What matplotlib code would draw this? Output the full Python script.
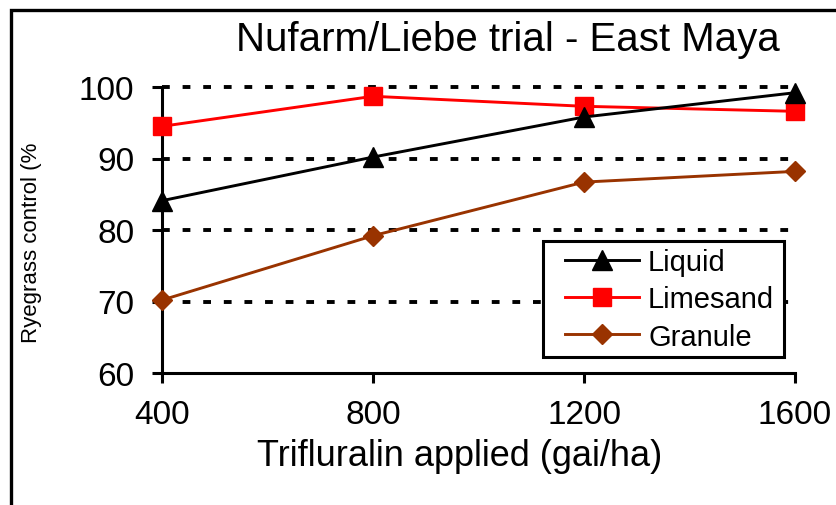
import matplotlib
matplotlib.use("Agg")
import matplotlib.pyplot as plt
from matplotlib.patches import Rectangle

plt.rcParams['font.family'] = ['Liberation Sans', 'DejaVu Sans']

rates = [400, 800, 1200, 1600]
liquid = [84.1, 90.2, 95.8, 99.2]
limesand = [94.5, 98.7, 97.3, 96.6]
granule = [70.2, 79.2, 86.7, 88.2]
y_ticks = [60, 70, 80, 90, 100]

W, H = 836, 506
fig = plt.figure(figsize=(W/100, H/100), dpi=100)
ax = fig.add_axes([162/W, 1-374/H, (795-162)/W, (374-88)/H])

# outer chart border (left and top edges visible)
fig.patches.append(Rectangle((11/W, -0.5), 2.0, 1.5 - 11/H,
                             transform=fig.transFigure, fill=False,
                             edgecolor='black', linewidth=2.4, zorder=0))

for y in y_ticks[1:]:
    ax.plot([400, 1600], [y, y], color='black', linestyle=(0, (2.0, 3.3)),
            linewidth=2.8, dash_capstyle='butt', zorder=1, clip_on=False)

ax.plot(rates, liquid, color='black', marker='^', markersize=15, linewidth=2.1,
        label='Liquid', clip_on=False, zorder=4)
ax.plot(rates, limesand, color='#ff0000', marker='s', markersize=13, linewidth=2.1,
        label='Limesand', clip_on=False, zorder=3)
ax.plot(rates, granule, color='#993300', marker='D', markersize=10.5, linewidth=2.1,
        label='Granule', clip_on=False, zorder=3)

ax.set_xlim(400, 1600)
ax.set_ylim(60, 100)
ax.set_xticks(rates)
ax.set_yticks(y_ticks)
ax.tick_params(axis='both', direction='out', length=7, width=2.2, labelsize=24)
ax.tick_params(axis='x', pad=12)
ax.tick_params(axis='y', pad=13)
for side in ['top', 'right']:
    ax.spines[side].set_visible(False)
for side in ['left', 'bottom']:
    ax.spines[side].set_linewidth(2.2)

ax.set_xlabel('Trifluralin applied (gai/ha)', fontsize=26, labelpad=4)
ax.xaxis.set_label_coords((460-162)/633, -0.228)
fig.text(32/W, 1-243/H, 'Ryegrass control (%', rotation=90,
         fontsize=16, ha='center', va='center')
fig.text(508/W, 1-40/H, 'Nufarm/Liebe trial - East Maya', fontsize=29,
         ha='center', va='center')

# legend entries plus a separate square frame around them
def to_ax(px, py):
    return (px - 162) / 633, (374 - py) / 286

fx0, fy1 = to_ax(543, 242)
fx1, fy0 = to_ax(784, 358)
ax.add_patch(Rectangle((fx0, fy0), fx1 - fx0, fy1 - fy0, transform=ax.transAxes,
                       facecolor='white', edgecolor='black', linewidth=2.2,
                       zorder=5, clip_on=False))
leg = ax.legend(loc='upper left', bbox_to_anchor=to_ax(565, 249),
                fontsize=21, frameon=False, handlelength=2.55,
                borderpad=0, labelspacing=0.32, handletextpad=0.3,
                borderaxespad=0)
leg.set_zorder(6)

fig.savefig('out.png', dpi=100)
